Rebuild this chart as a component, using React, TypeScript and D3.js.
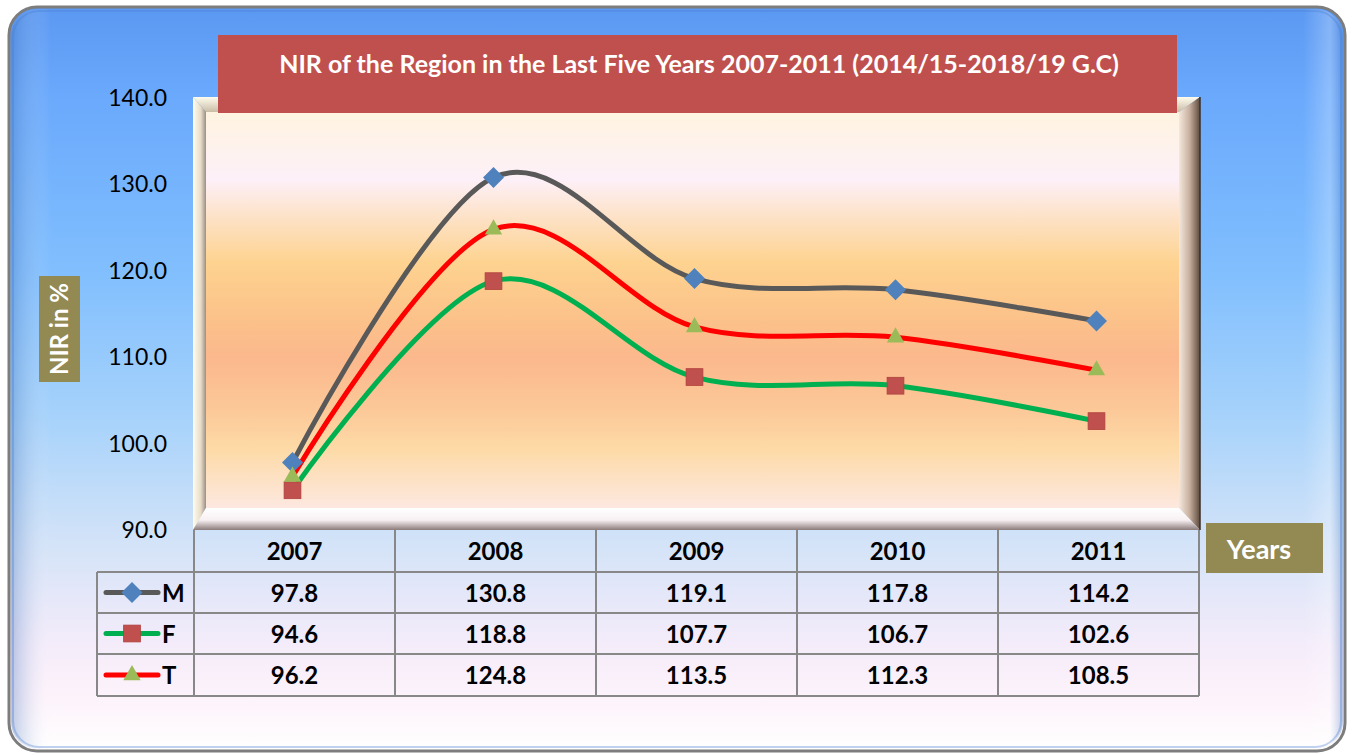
import React from "react";
import * as d3 from "d3";

const years = ["2007", "2008", "2009", "2010", "2011"];
const seriesNames = ["M", "F", "T"];
const valuesM = [97.8, 130.8, 119.1, 117.8, 114.2];
const valuesF = [94.6, 118.8, 107.7, 106.7, 102.6];
const valuesT = [96.2, 124.8, 113.5, 112.3, 108.5];
const yTicks = [90, 100, 110, 120, 130, 140];
const titleText = "NIR of the Region in the Last Five Years 2007-2011 (2014/15-2018/19 G.C)";
const yAxisLabel = "NIR in %";
const xAxisLabel = "Years";

const W = 1354;
const H = 755;
const FONT = "Lato, 'Open Sans', 'Noto Sans', sans-serif";

const series = [
  { name: seriesNames[0], values: valuesM, line: "#595959", marker: "#4f81bd", shape: "diamond" },
  { name: seriesNames[1], values: valuesF, line: "#00b050", marker: "#c0504d", shape: "square" },
  { name: seriesNames[2], values: valuesT, line: "#ff0000", marker: "#9bbb59", shape: "triangle" },
];

const Marker = ({ shape, x, y, color, size }: any) => {
  if (shape === "diamond") {
    const s = size * 0.75;
    return <path d={`M${x},${y - s}L${x + s},${y}L${x},${y + s}L${x - s},${y}Z`} fill={color} />;
  }
  if (shape === "square") {
    const s = size * 0.6;
    return <rect x={x - s} y={y - s} width={2 * s} height={2 * s} fill={color} stroke="#b0413e" strokeWidth={0.8} />;
  }
  const s = size * 0.62;
  return <path d={`M${x},${y - s * 1.15}L${x + s},${y + s * 0.6}L${x - s},${y + s * 0.6}Z`} fill={color} />;
};

export default function App() {
  const plotTop = 98;
  const plotBottom = 530;
  const tableLeft = 194;
  const colW = 201;
  const tableRight = tableLeft + colW * years.length;

  const y = d3.scaleLinear().domain([90, 140]).range([plotBottom, plotTop]);
  const x = d3.scaleBand().domain(years).range([tableLeft, tableRight]);
  const cx = (yr: string) => (x(yr) as number) + x.bandwidth() / 2 - 2;

  const line = d3
    .line<number>()
    .x((_, i) => cx(years[i]))
    .y((v) => y(v))
    .curve(d3.curveCardinal.tension(0));

  const fo = { x0: 193, y0: 97, x1: 1200, y1: 530 };
  const fi = { x0: 206, y0: 112, x1: 1179, y1: 508 };

  const rowTops = [530, 572, 613, 654, 696];
  const legendLeft = 97;

  return (
    <svg width={W} height={H} style={{ position: "absolute", left: 0, top: 0 }}>
      <defs>
        <linearGradient id="bgGrad" x1="0" y1="0" x2="0" y2="1">
          <stop offset="0" stopColor="#5b98f2" />
          <stop offset="0.12" stopColor="#6aa9fc" />
          <stop offset="0.35" stopColor="#80befe" />
          <stop offset="0.55" stopColor="#a6d2fb" />
          <stop offset="0.72" stopColor="#d3e3f8" />
          <stop offset="0.86" stopColor="#f5ecfa" />
          <stop offset="0.93" stopColor="#fdf3fb" />
          <stop offset="1" stopColor="#ffffff" />
        </linearGradient>
        <linearGradient id="bgSide" x1="0" y1="0" x2="1" y2="0">
          <stop offset="0" stopColor="#3d6fb8" stopOpacity="0.35" />
          <stop offset="0.03" stopColor="#ffffff" stopOpacity="0" />
          <stop offset="0.97" stopColor="#ffffff" stopOpacity="0" />
          <stop offset="0.99" stopColor="#ffffff" stopOpacity="0.25" />
          <stop offset="1" stopColor="#3d6fb8" stopOpacity="0.35" />
        </linearGradient>
        <linearGradient id="plotGrad" x1="0" y1="0" x2="0" y2="1">
          <stop offset="0" stopColor="#fff4e0" />
          <stop offset="0.17" stopColor="#fdf0f8" />
          <stop offset="0.28" stopColor="#fde0c0" />
          <stop offset="0.38" stopColor="#fed390" />
          <stop offset="0.5" stopColor="#fcc48a" />
          <stop offset="0.62" stopColor="#fbb88c" />
          <stop offset="0.75" stopColor="#fcc898" />
          <stop offset="0.85" stopColor="#fddaa6" />
          <stop offset="1" stopColor="#fde8e0" />
        </linearGradient>
        <linearGradient id="bevelLeft" x1="0" y1="0" x2="1" y2="0">
          <stop offset="0" stopColor="#fffdf0" />
          <stop offset="0.6" stopColor="#e8dcc8" />
          <stop offset="1" stopColor="#9a8f86" />
        </linearGradient>
        <linearGradient id="bevelRight" x1="0" y1="0" x2="1" y2="0">
          <stop offset="0" stopColor="#f4e8dc" />
          <stop offset="0.5" stopColor="#c8b0a0" />
          <stop offset="1" stopColor="#5d4a3c" />
        </linearGradient>
        <linearGradient id="bevelTop" x1="0" y1="0" x2="0" y2="1">
          <stop offset="0" stopColor="#fffcee" />
          <stop offset="1" stopColor="#c9bda6" />
        </linearGradient>
        <linearGradient id="bevelBottom" x1="0" y1="0" x2="0" y2="1">
          <stop offset="0" stopColor="#ffffff" />
          <stop offset="0.55" stopColor="#f8f0f2" />
          <stop offset="1" stopColor="#8c7c7c" />
        </linearGradient>
      </defs>

      <rect x={9} y={7} width={1336} height={744} rx={28} fill="url(#bgGrad)" stroke="#7d7d7d" strokeWidth={3} />
      <rect x={11} y={9} width={1332} height={740} rx={27} fill="url(#bgSide)" />
      <rect x={13} y={11} width={1328} height={736} rx={26} fill="none" stroke="#4a7fd0" strokeOpacity={0.35} strokeWidth={2} />

      <path d={`M${fo.x0},${fo.y0}L${fo.x1},${fo.y0}L${fi.x1},${fi.y0}L${fi.x0},${fi.y0}Z`} fill="url(#bevelTop)" />
      <path d={`M${fo.x0},${fo.y0}L${fi.x0},${fi.y0}L${fi.x0},${fi.y1}L${fo.x0},${fo.y1}Z`} fill="url(#bevelLeft)" />
      <path d={`M${fo.x1},${fo.y0}L${fo.x1},${fo.y1}L${fi.x1},${fi.y1}L${fi.x1},${fi.y0}Z`} fill="url(#bevelRight)" />
      <path d={`M${fo.x0},${fo.y1}L${fi.x0},${fi.y1}L${fi.x1},${fi.y1}L${fo.x1},${fo.y1}Z`} fill="url(#bevelBottom)" />
      <rect x={fi.x0} y={fi.y0} width={fi.x1 - fi.x0} height={fi.y1 - fi.y0} fill="url(#plotGrad)" />
      <line x1={fo.x1} y1={fo.y0} x2={fo.x1} y2={fo.y1} stroke="#3b2f28" strokeWidth={1.5} />

      {yTicks.map((t) => (
        <text key={t} x={167} y={y(t)} dy="0.35em" textAnchor="end" fontFamily={FONT} fontSize={23} fill="#000">
          {t.toFixed(1)}
        </text>
      ))}

      {series.map((s) => (
        <path key={s.name} d={line(s.values) || ""} fill="none" stroke={s.line} strokeWidth={5} strokeLinecap="round" />
      ))}
      {series.map((s) =>
        s.values.map((v, i) => (
          <Marker key={s.name + i} shape={s.shape} x={cx(years[i])} y={y(v)} color={s.marker} size={14} />
        ))
      )}

      <rect x={218} y={35} width={959} height={78} fill="#c0504d" />
      <text x={699} y={64} dy="0.35em" textAnchor="middle" fontFamily={FONT} fontWeight="bold" fontSize={25} fill="#fff">
        {titleText}
      </text>

      <rect x={39} y={276} width={41} height={106} fill="#938953" />
      <text
        transform={`translate(60,329) rotate(-90)`}
        dy="0.35em"
        textAnchor="middle"
        fontFamily={FONT}
        fontWeight="bold"
        fontSize={24}
        fill="#fff"
      >
        {yAxisLabel}
      </text>

      <rect x={1206} y={523} width={117} height={50} fill="#938953" />
      <text x={1259} y={550} dy="0.35em" textAnchor="middle" fontFamily={FONT} fontWeight="bold" fontSize={27} fill="#fff">
        {xAxisLabel}
      </text>

      <g stroke="#888" strokeWidth={2} fill="none">
        <line x1={tableLeft} y1={rowTops[0]} x2={tableLeft} y2={rowTops[4]} />
        {years.map((yr) => (
          <line key={yr} x1={(x(yr) as number) + colW} y1={rowTops[0]} x2={(x(yr) as number) + colW} y2={rowTops[4]} />
        ))}
        <line x1={legendLeft} y1={rowTops[1]} x2={legendLeft} y2={rowTops[4]} />
        {rowTops.slice(1).map((r) => (
          <line key={r} x1={legendLeft} y1={r} x2={tableRight} y2={r} />
        ))}
      </g>
      {years.map((yr) => (
        <text
          key={yr}
          x={(x(yr) as number) + colW / 2}
          y={(rowTops[0] + rowTops[1]) / 2 + 1}
          dy="0.35em"
          textAnchor="middle"
          fontFamily={FONT}
          fontWeight="bold"
          fontSize={24}
          fill="#000"
        >
          {yr}
        </text>
      ))}
      {series.map((s, si) => {
        const ry = (rowTops[si + 1] + rowTops[si + 2]) / 2;
        return (
          <g key={s.name}>
            <line x1={106} y1={ry} x2={158} y2={ry} stroke={s.line} strokeWidth={5} strokeLinecap="round" />
            <Marker shape={s.shape} x={132} y={ry} color={s.marker} size={14} />
            <text x={162} y={ry + 1} dy="0.35em" fontFamily={FONT} fontWeight="bold" fontSize={24} fill="#000">
              {s.name}
            </text>
            {s.values.map((v, i) => (
              <text
                key={i}
                x={(x(years[i]) as number) + colW / 2}
                y={ry + 1}
                dy="0.35em"
                textAnchor="middle"
                fontFamily={FONT}
                fontWeight="bold"
                fontSize={24}
                fill="#000"
              >
                {v.toFixed(1)}
              </text>
            ))}
          </g>
        );
      })}
    </svg>
  );
}
